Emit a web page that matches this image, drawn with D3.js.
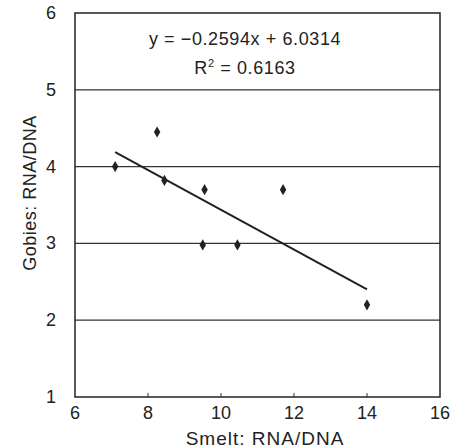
<!DOCTYPE html>
<html>
<head>
  <meta charset="utf-8">
  <script src="https://d3js.org/d3.v7.min.js"></script>
  <style>
    body { margin: 0; background: #fff; }
    text { font-family: "Liberation Sans", Arial, sans-serif; fill: #222; }
  </style>
</head>
<body>
  <svg width="461" height="448"></svg>

  <script>
    // Smelt vs gobies RNA/DNA
    var smelt = [7.1, 8.25, 8.45, 9.55, 9.5, 10.45, 11.7, 14.0];
    var gobies = [4.0, 4.45, 3.82, 3.7, 2.98, 2.98, 3.7, 2.2];
    var xTicks = [6, 8, 10, 12, 14, 16];
    var yTicks = [1, 2, 3, 4, 5, 6];
    var slope = -0.2594, intercept = 6.0314;

    var svg = d3.select("svg");
    var plotLeft = 75, plotRight = 440, plotTop = 13, plotBottom = 397;

    var x = d3.scaleLinear().domain([6, 16]).range([plotLeft, plotRight]);
    var y = d3.scaleLinear().domain([1, 6]).range([plotBottom, plotTop]);

    // Gridlines
    svg.selectAll("line.grid")
      .data(yTicks.slice(1, -1))
      .enter()
      .append("line")
      .attr("class", "grid")
      .attr("x1", plotLeft).attr("x2", plotRight)
      .attr("y1", d => y(d)).attr("y2", d => y(d))
      .attr("stroke", "#333")
      .attr("stroke-width", 1.2);

    // Frame
    svg.append("rect")
      .attr("x", plotLeft).attr("y", plotTop)
      .attr("width", plotRight - plotLeft).attr("height", plotBottom - plotTop)
      .attr("fill", "none")
      .attr("stroke", "#222")
      .attr("stroke-width", 1.5);

    // small inside ticks on x axis
    svg.selectAll("line.xt")
      .data(xTicks.slice(1, -1))
      .enter()
      .append("line")
      .attr("class", "xt")
      .attr("x1", d => x(d)).attr("x2", d => x(d))
      .attr("y1", plotBottom).attr("y2", plotBottom - 4)
      .attr("stroke", "#333");

    // Tick labels
    svg.selectAll("text.xl")
      .data(xTicks)
      .enter()
      .append("text")
      .attr("class", "xl")
      .attr("x", d => x(d))
      .attr("y", plotBottom + 22)
      .attr("text-anchor", "middle")
      .attr("font-size", 18)
      .text(d => d);

    svg.selectAll("text.yl")
      .data(yTicks)
      .enter()
      .append("text")
      .attr("class", "yl")
      .attr("x", 56)
      .attr("y", d => y(d) + 6)
      .attr("text-anchor", "end")
      .attr("font-size", 18)
      .text(d => d);

    // Axis titles
    svg.append("text")
      .attr("x", 265)
      .attr("y", 445)
      .attr("text-anchor", "middle")
      .attr("font-size", 19)
      .attr("letter-spacing", 1)
      .text("Smelt: RNA/DNA");

    svg.append("text")
      .attr("transform", "translate(36,193) rotate(-90)")
      .attr("text-anchor", "middle")
      .attr("font-size", 18)
      .attr("letter-spacing", 0.5)
      .text("Gobies: RNA/DNA");

    // Trend line over the data range
    var xr = d3.extent(smelt);
    svg.append("line")
      .attr("x1", x(xr[0])).attr("y1", y(slope * xr[0] + intercept))
      .attr("x2", x(xr[1])).attr("y2", y(slope * xr[1] + intercept))
      .attr("stroke", "#222")
      .attr("stroke-width", 2);

    // Points (diamonds)
    svg.selectAll("path.pt")
      .data(smelt)
      .enter()
      .append("path")
      .attr("class", "pt")
      .attr("d", d3.symbol().type(d3.symbolDiamond).size(36))
      .attr("transform", (d, i) => `translate(${x(d)},${y(gobies[i])})`)
      .attr("fill", "#222");

    // Equation
    svg.append("text")
      .attr("x", 245)
      .attr("y", 45)
      .attr("text-anchor", "middle")
      .attr("font-size", 18)
      .attr("letter-spacing", 0.6)
      .text("y = \u22120.2594x + 6.0314");

    var r2 = svg.append("text")
      .attr("x", 245)
      .attr("y", 74)
      .attr("text-anchor", "middle")
      .attr("font-size", 18)
      .attr("letter-spacing", 0.6);
    r2.append("tspan").text("R");
    r2.append("tspan").attr("dy", -7).attr("font-size", 11).text("2");
    r2.append("tspan").attr("dy", 7).text(" = 0.6163");
  </script>
</body>
</html>
